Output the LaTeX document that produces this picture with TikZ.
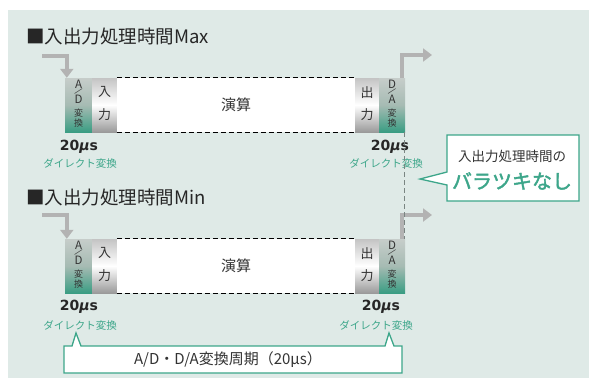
\documentclass[tikz,border=0pt]{standalone}
\usepackage{fontspec}
\setmainfont{Noto Sans CJK JP}
\newfontfamily\jpbold[FakeBold=2]{Noto Sans CJK JP}
\newfontfamily\numfont{DejaVu Sans}
\usetikzlibrary{arrows.meta}
\definecolor{bgc}{HTML}{DFEAE7}
\definecolor{tgreen}{HTML}{3DA68A}
\definecolor{agray}{HTML}{B3B3B3}
\definecolor{txtc}{HTML}{333333}
\definecolor{convtop}{HTML}{C6CDCA}
\definecolor{convmid}{HTML}{A6BBB3}
\definecolor{convbot}{HTML}{3A9D83}
\definecolor{iotop}{HTML}{C4C4C4}
\definecolor{iobot}{HTML}{9A9A9A}
\definecolor{vdash}{HTML}{7A8582}
\tikzset{
  convbox/.style={rectangle, inner sep=0pt, minimum height=54pt, top color=convtop, bottom color=convbot, middle color=convmid},
  iobox/.style={rectangle, inner sep=0pt, minimum height=54pt, top color=iotop, bottom color=iobot, middle color=white},
  calcbox/.style={rectangle, inner sep=0pt, minimum height=54pt, fill=white, text=txtc, font=\fontsize{15}{16}\selectfont},
  dashline/.style={dash pattern=on 5pt off 3pt, line width=1.1pt, black},
  vdashline/.style={dash pattern=on 5pt off 3pt, line width=1.3pt, vdash},
  glyph/.style={inner sep=0pt, text=txtc, font=\fontsize{11.5}{12}\selectfont},
  slashglyph/.style={inner sep=0pt, text=txtc, font=\fontsize{9}{9}\selectfont, rotate=-40},
  glyphsm/.style={inner sep=0pt, text=txtc, font=\fontsize{9}{10}\selectfont},
  iotext/.style={inner sep=0pt, text=txtc, font=\fontsize{13}{14}\selectfont},
  flow/.style={agray, line width=4pt, -{Triangle[width=13pt,length=9pt]}},
  usec/.style={inner sep=0pt, font=\numfont\bfseries\fontsize{14}{15}\selectfont, text=black!85},
  direct/.style={inner sep=0pt, text=tgreen, font=\fontsize{10.5}{11}\selectfont},
  titletext/.style={inner sep=0pt, anchor=west, text=black!85, font=\fontsize{18.5}{20}\selectfont},
  callout/.style={fill=white, draw=tgreen, line width=1.3pt, line join=miter},
}
\newcommand\convlabels[3]{%
  \node[glyph] at ([yshift=-6.5pt]#1.north) {#2};
  \node[slashglyph] at ([yshift=-14pt]#1.north) {/};
  \node[glyph] at ([yshift=-21.5pt]#1.north) {#3};
  \node[glyphsm] at ([yshift=-35pt]#1.north) {変};
  \node[glyphsm] at ([yshift=-45pt]#1.north) {換};
}
\newcommand\iolabels[3]{%
  \node[iotext] at ([yshift=-14.5pt]#1.north) {#2};
  \node[iotext] at ([yshift=-36.5pt]#1.north) {#3};
}
\begin{document}
\begin{tikzpicture}[x=1pt,y=-1pt]
\useasboundingbox (0,0) rectangle (589,378);
\fill[bgc] (8,10) rectangle (589,378);

% ---------- Max ----------
\node[titletext] (t1) at (26,36) {■入出力処理時間Max};
\node[convbox, minimum width=27pt] (ad1) at (78.5,105) {};
\node[iobox, minimum width=25pt] (in1) at (104.5,105) {};
\node[calcbox, minimum width=238pt] (op1) at (236,105) {演算};
\node[iobox, minimum width=24pt] (out1) at (367,105) {};
\node[convbox, minimum width=26pt] (da1) at (392,105) {};
\draw[dashline] (op1.north west) -- (op1.north east);
\draw[dashline] (op1.south west) -- (op1.south east);
\convlabels{ad1}{A}{D}
\convlabels{da1}{D}{A}
\iolabels{in1}{入}{力}
\iolabels{out1}{出}{力}
\coordinate (i1) at (42,56);
\coordinate (o1) at (432,55);
\draw[flow] (i1) -| ([xshift=2pt]ad1.north west);
\draw[flow] ([xshift=-3.5pt]da1.north east) |- (o1);
\node[usec] (u1) at (79,147) {20{\itshape μ}s};
\node[direct] (d1) at (80,163) {ダイレクト変換};
\node[usec] (u2) at (390,147) {20{\itshape μ}s};
\node[direct] (d2) at (386,163) {ダイレクト変換};

% ---------- Min ----------
\node[titletext] (t2) at (26,197) {■入出力処理時間Min};
\node[convbox, minimum width=27pt] (ad2) at (78.5,266) {};
\node[iobox, minimum width=25pt] (in2) at (104.5,266) {};
\node[calcbox, minimum width=238pt] (op2) at (236,266) {演算};
\node[iobox, minimum width=24pt] (out2) at (367,266) {};
\node[convbox, minimum width=26pt] (da2) at (392,266) {};
\draw[dashline] (op2.north west) -- (op2.north east);
\draw[dashline] (op2.south west) -- (op2.south east);
\convlabels{ad2}{A}{D}
\convlabels{da2}{D}{A}
\iolabels{in2}{入}{力}
\iolabels{out2}{出}{力}
\coordinate (i2) at (42,215);
\coordinate (o2) at (432,215);
\draw[flow] (i2) -| ([xshift=2pt]ad2.north west);
\draw[flow] ([xshift=-3.5pt]da2.north east) |- (o2);
\node[usec] (u3) at (79,307) {20{\itshape μ}s};
\node[direct] (d3) at (80,325) {ダイレクト変換};
\node[usec] (u4) at (381,307) {20{\itshape μ}s};
\node[direct] (d4) at (376,325) {ダイレクト変換};

% vertical dashed alignment line
\draw[vdashline] ([xshift=-0.7pt]da1.south east) -- ([xshift=-0.7pt]da2.north east);

% ---------- callouts ----------
\draw[callout] (447,135) -- (579,135) -- (579,201) -- (447,201) -- (447,185) -- (420,179) -- (447,172) -- cycle;
\node[inner sep=0pt, text=txtc, font=\fontsize{13.5}{14}\selectfont] (c1) at (512,156) {入出力処理時間の};
\node[inner sep=0pt, text=tgreen, font=\jpbold\fontsize{20}{22}\selectfont] (c2) at (512,181) {バラツキなし};

\draw[callout] (64,346) -- (72,346) -- (76,333) -- (81,346) -- (385,346) -- (389,333) -- (394,346) -- (402,346) -- (402,373) -- (64,373) -- cycle;
\node[inner sep=0pt, text=txtc, font=\fontsize{15}{16}\selectfont] (c3) at (228,360) {A/D・D/A変換周期（20μs）};
\end{tikzpicture}
\end{document}
